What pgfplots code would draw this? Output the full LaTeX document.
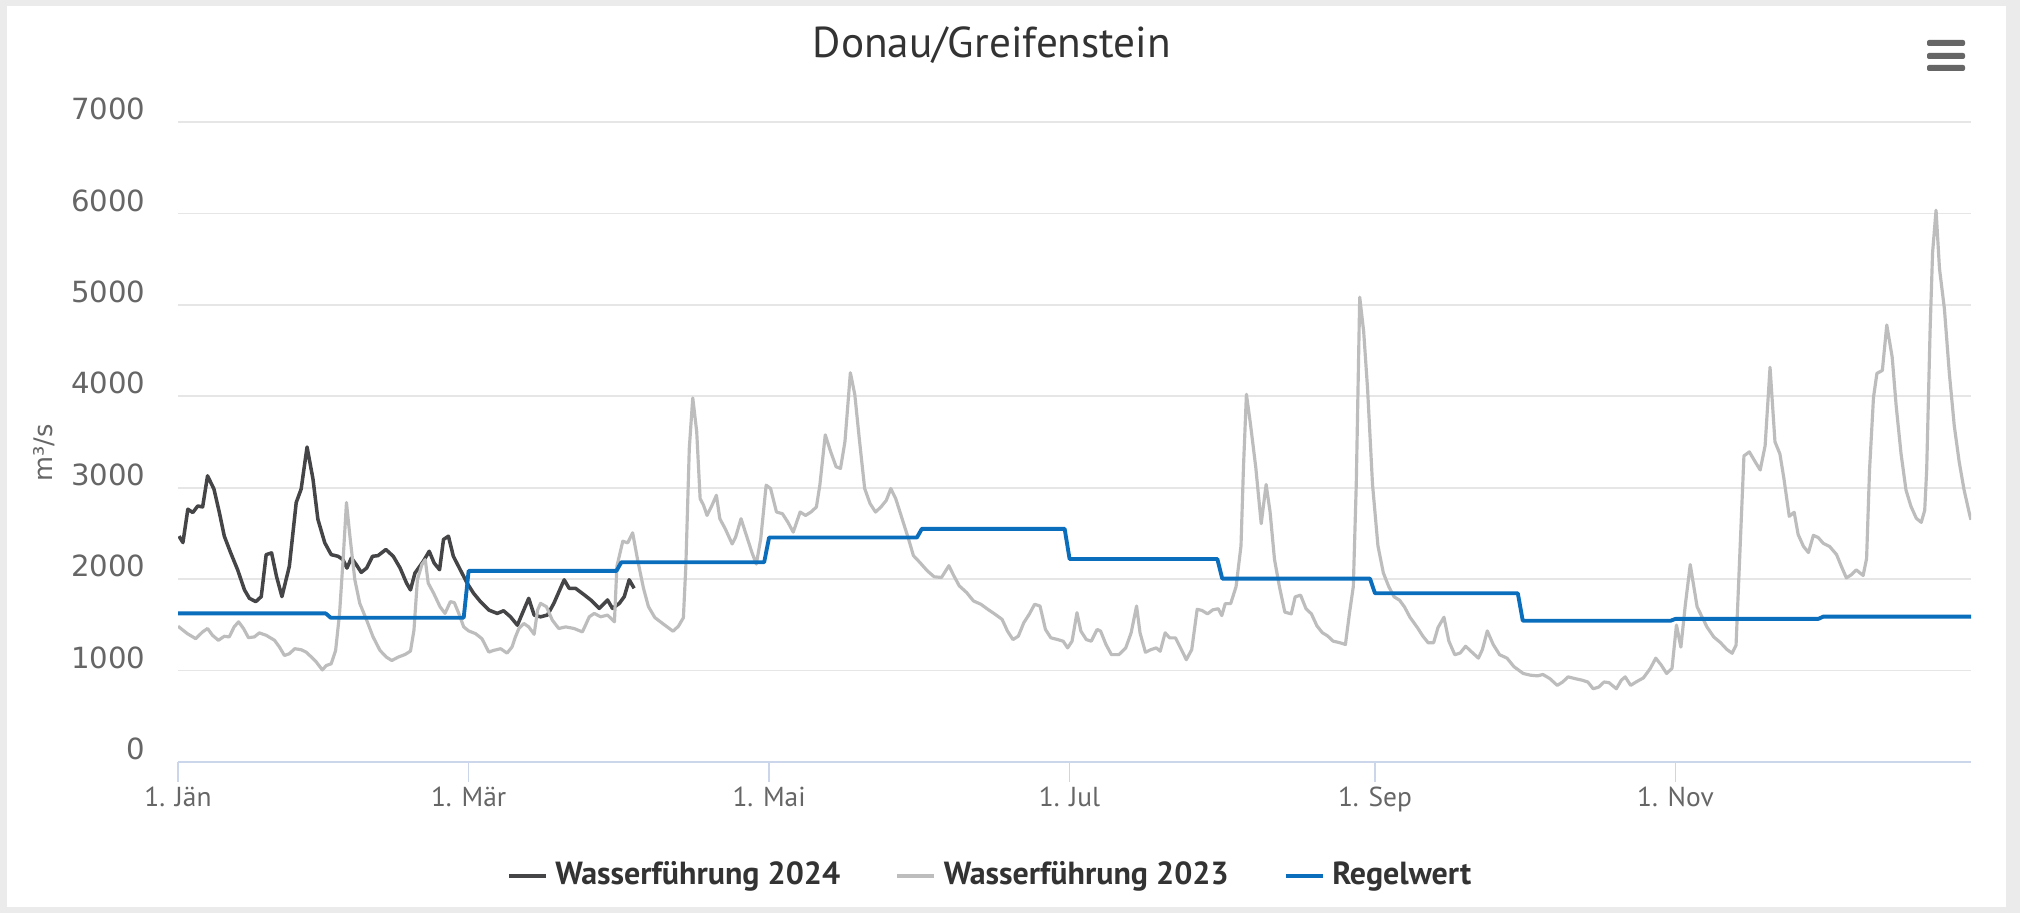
\documentclass[border=0pt]{standalone}
\usepackage{fontspec}
\setmainfont{PT Sans}
\newfontfamily\tickfont{DejaVu Sans}
\usepackage{pgfplots}
\pgfplotsset{compat=1.18}
\definecolor{bggray}{HTML}{EBEBEB}
\definecolor{gridc}{HTML}{E6E6E6}
\definecolor{axisc}{HTML}{CCD6EB}
\definecolor{labelc}{HTML}{666666}
\definecolor{textdark}{HTML}{333333}
\definecolor{c2024}{HTML}{454548}
\definecolor{c2023}{HTML}{BDBDBD}
\definecolor{cregel}{HTML}{0A6EBD}
\begin{document}
\begin{tikzpicture}
\path[use as bounding box] (0,0) rectangle (20.2,9.13);
\fill[bggray] (0,0) rectangle (20.2,9.13);
\fill[white] (0.07,0.06) rectangle (20.06,9.07);
% menu icon
\foreach \yy in {8.70,8.57,8.45}{
  \fill[labelc, rounded corners=0.02cm] (19.27,\yy-0.03) rectangle (19.65,\yy+0.03);
}
\begin{axis}[
  at={(1.78cm,1.51cm)}, anchor=south west,
  scale only axis, width=17.93cm, height=6.40cm,
  xmin=0, xmax=364, ymin=0, ymax=7000,
  axis line style={draw=none},
  extra description/.code={\draw[axisc, line width=0.4pt] (0,0) -- (1,0);},
  ymajorgrids, grid style={color=gridc, line width=0.45pt},
  ytick={0,1000,2000,3000,4000,5000,6000,7000},
  ytick style={draw=none},
  yticklabel style={anchor=east, inner sep=0pt, xshift=-0.12cm, yshift=0.13cm, text=labelc, font=\tickfont\fontsize{8.3}{10}\selectfont},
  /pgf/number format/assume math mode=true,
  /pgf/number format/1000 sep={},
  xtick={0,59,120,181,243,304},
  xticklabels={1. Jän, 1. Mär, 1. Mai, 1. Jul, 1. Sep, 1. Nov},
  xtick pos=left, tick align=outside, major tick length=0.2cm,
  xtick style={draw=axisc, line width=0.4pt},
  xticklabel style={anchor=north, inner sep=0pt, yshift=-0.04cm, text=labelc, font=\fontsize{7.8}{9}\selectfont},
  title={Donau/Greifenstein},
  every axis title/.style={at={(0.454,1.12)}, anchor=center, font=\fontsize{12.3}{14}\selectfont, text=textdark},
  ylabel={m³/s},
  every axis y label/.style={at={(-0.0747,0.483)}, rotate=90, anchor=center, font=\tickfont\fontsize{7.3}{9}\selectfont, text=labelc},
  legend columns=3,
  legend cell align=left,
  legend style={at={(0.4523,-0.178)}, anchor=center, draw=none, fill=none, inner sep=0pt,
    font=\bfseries\fontsize{9.1}{11}\selectfont, text=textdark,
    nodes={inner sep=0pt},
    /tikz/every odd column/.append style={column sep=0.07cm},
    /tikz/every even column/.append style={column sep=0.55cm}},
  legend image code/.code={\draw[#1, line width=1.3pt] (0cm,0cm) -- (0.37cm,0cm);},
  every axis plot/.append style={line join=round, mark=none},
]
\addplot[c2024, line width=1.0pt] coordinates {
(0.2,2470)(1,2400)(2,2765)(3,2728)(4,2800)(5,2790)(6,3130)(7.3,2985)(8.4,2728)(9.4,2470)(10.7,2287)(12.1,2103)(13.5,1882)(14.5,1790)(15.8,1754)(16.9,1809)(17.9,2268)(19,2287)(20,2029)(21.1,1809)(22.6,2140)(24,2838)(25,2985)(26.2,3445)(27.4,3096)(28.4,2654)(29.8,2397)(31.1,2268)(32.5,2250)(33.5,2213)(34.3,2121)(35.2,2232)(36.2,2158)(37.2,2074)(38.3,2121)(39.5,2250)(40.6,2257)(42.2,2324)(43.7,2250)(45.1,2121)(46.4,1956)(47.2,1882)(48.1,2066)(49.8,2195)(51,2305)(52,2176)(53.1,2103)(53.9,2434)(54.9,2470)(55.9,2250)(57.3,2103)(58.7,1956)(60,1846)(61.4,1754)(63.1,1662)(64.8,1625)(66.1,1654)(67.5,1588)(68.9,1496)(69.9,1625)(71.2,1790)(72.3,1607)(73.6,1588)(75,1607)(76.3,1735)(78.4,1993)(79.4,1900)(80.7,1900)(82.5,1827)(83.8,1772)(85.5,1680)(87.2,1772)(88.2,1680)(89.6,1735)(90.6,1809)(91.6,1993)(92.6,1900)
};
\addlegendentry{Wasserführung 2024}
\addplot[c2023, line width=0.9pt] coordinates {
(0,1485)(1.9,1404)(3.6,1349)(5,1423)(6,1460)(7,1386)(8.2,1331)(9.4,1375)(10.4,1368)(11.4,1478)(12.3,1533)(13.3,1460)(14.3,1360)(15.5,1368)(16.5,1412)(17.9,1386)(19.6,1331)(20.6,1257)(21.6,1165)(22.6,1184)(23.7,1239)(25,1228)(26,1202)(27.1,1147)(28.1,1092)(29.3,1007)(30.1,1055)(31.1,1074)(32,1221)(32.8,1625)(33.6,2287)(34.2,2838)(34.9,2470)(35.9,1993)(36.9,1735)(38.3,1551)(39.6,1368)(41,1221)(42.3,1147)(43.4,1110)(44.7,1147)(46.1,1176)(47.2,1213)(47.9,1441)(48.6,1993)(49.5,2158)(50.2,2213)(50.8,1956)(51.9,1846)(53.2,1698)(54.2,1625)(55.3,1754)(56.1,1743)(57,1625)(58,1478)(59,1434)(60.4,1404)(61.7,1349)(63.1,1202)(64.1,1221)(65.5,1239)(66.8,1191)(67.8,1257)(68.5,1368)(69.2,1460)(70.2,1515)(71.2,1478)(72.3,1397)(73,1662)(73.6,1735)(74.8,1698)(76,1551)(77.3,1460)(78.7,1478)(80.4,1460)(82.1,1423)(83.5,1588)(84.5,1625)(85.8,1588)(87.2,1607)(88.6,1533)(89.1,2140)(90.3,2415)(91.3,2397)(92.3,2507)(93.3,2213)(94.5,1900)(95.5,1700)(96.8,1580)(98.5,1510)(100.5,1430)(101.6,1486)(102.6,1578)(103.1,2147)(103.8,3431)(104.5,3982)(105.3,3615)(106,2881)(106.7,2807)(107.4,2697)(108.4,2807)(109.3,2917)(110,2661)(111.1,2550)(112.5,2385)(113.2,2459)(114.3,2661)(115.4,2477)(116.5,2294)(117.4,2165)(118.3,2440)(119.4,3028)(120.3,2991)(121.5,2734)(122.7,2716)(123.8,2624)(124.9,2514)(126.3,2734)(127.4,2697)(128.5,2734)(129.6,2789)(130.3,3028)(131.4,3578)(132.5,3394)(133.6,3229)(134.5,3211)(135.4,3505)(136.5,4257)(137.4,4018)(138.3,3541)(139.4,2991)(140.5,2826)(141.6,2734)(142.7,2789)(143.8,2862)(144.7,2991)(145.7,2881)(147,2661)(148.3,2440)(149.3,2257)(150.6,2183)(152.1,2092)(153.5,2026)(155,2018)(156.5,2147)(157.5,2037)(158.6,1927)(160.1,1853)(161.5,1761)(163,1725)(164.4,1670)(165.9,1615)(167.3,1560)(168.4,1431)(169.5,1339)(170.6,1376)(171.7,1523)(172.8,1615)(173.9,1725)(175,1706)(176.1,1450)(177.2,1358)(178.6,1339)(179.7,1321)(180.6,1248)(181.5,1321)(182.5,1633)(183.3,1431)(184.4,1339)(185.4,1321)(186.6,1450)(187.3,1431)(188.4,1284)(189.5,1174)(191,1174)(192.4,1248)(193.5,1413)(194.6,1706)(195.3,1413)(196.4,1200)(197.5,1229)(198.6,1248)(199.4,1211)(200.4,1413)(201.3,1358)(202.5,1358)(203.7,1229)(204.7,1119)(205.8,1229)(206.9,1670)(207.9,1657)(209,1620)(210.1,1665)(211.2,1676)(211.9,1601)(212.6,1732)(213.7,1732)(214.8,1918)(215.8,2365)(216.3,3222)(216.9,4022)(217.7,3706)(218.8,3222)(219.9,2607)(220.9,3035)(221.7,2737)(222.6,2216)(223.6,1918)(224.7,1639)(226,1620)(226.8,1806)(227.9,1825)(229,1676)(230.1,1620)(231.2,1490)(232.3,1415)(233.4,1378)(234.5,1322)(235.9,1304)(237,1285)(237.8,1620)(238.6,1918)(239.2,3035)(239.9,5084)(240.7,4711)(241.5,4078)(242.5,3035)(243.6,2365)(244.7,2067)(245.8,1918)(246.9,1806)(248,1769)(249,1695)(250.1,1583)(251.6,1471)(252.7,1378)(253.8,1304)(254.9,1304)(255.8,1471)(257,1583)(258,1322)(259.2,1173)(260.3,1192)(261.4,1266)(262.5,1210)(264,1136)(264.8,1229)(265.8,1434)(267,1285)(268.3,1173)(269.8,1136)(271.2,1043)(273.1,968)(274.5,950)(276,942)(277.1,957)(278.5,912)(280,838)(281.1,875)(282.2,931)(283.6,912)(285.1,894)(286.2,875)(287.3,801)(288.4,819)(289.5,875)(290.5,868)(292,801)(293,894)(293.8,931)(294.9,838)(296,875)(297.5,920)(298.9,1024)(300,1136)(301.1,1061)(302.2,968)(303.3,1024)(304.2,1498)(305.1,1256)(306,1718)(307,2159)(308.4,1696)(309.4,1586)(310.4,1476)(311.8,1366)(313.1,1308)(314.4,1233)(315.5,1189)(316.3,1278)(317.1,2313)(317.9,3348)(319,3392)(320.2,3282)(321.2,3194)(322.2,3458)(323.2,4317)(324.2,3502)(325.2,3370)(326,3106)(327.1,2687)(328.1,2731)(328.9,2489)(330,2357)(331,2291)(332,2480)(333,2454)(334,2392)(335.3,2357)(336.7,2269)(337.7,2137)(338.7,2013)(339.7,2048)(340.7,2101)(342.1,2040)(342.8,2225)(343.4,3194)(344.2,3987)(344.9,4251)(346,4282)(346.9,4780)(348,4427)(348.8,3899)(349.8,3370)(350.8,2974)(351.8,2797)(352.9,2665)(353.9,2621)(354.6,2753)(355,3194)(355.7,4736)(356.2,5573)(356.9,6035)(357.6,5396)(358.6,4956)(359.6,4251)(360.6,3678)(361.6,3282)(362.6,2974)(363.8,2687)(364,2650)
};
\addlegendentry{Wasserführung 2023}
\addplot[cregel, line width=1.1pt] coordinates {
(0,1625)(30,1625)(31,1578)(58,1578)(59,2090)(89,2090)(90,2185)(119,2185)(120,2455)(150,2455)(151,2550)(180,2550)(181,2220)(211,2220)(212,2005)(242,2005)(243,1845)(272,1845)(273,1545)(303,1545)(304,1565)(333,1565)(334,1590)(364,1590)
};
\addlegendentry{Regelwert}
\end{axis}
\end{tikzpicture}
\end{document}
